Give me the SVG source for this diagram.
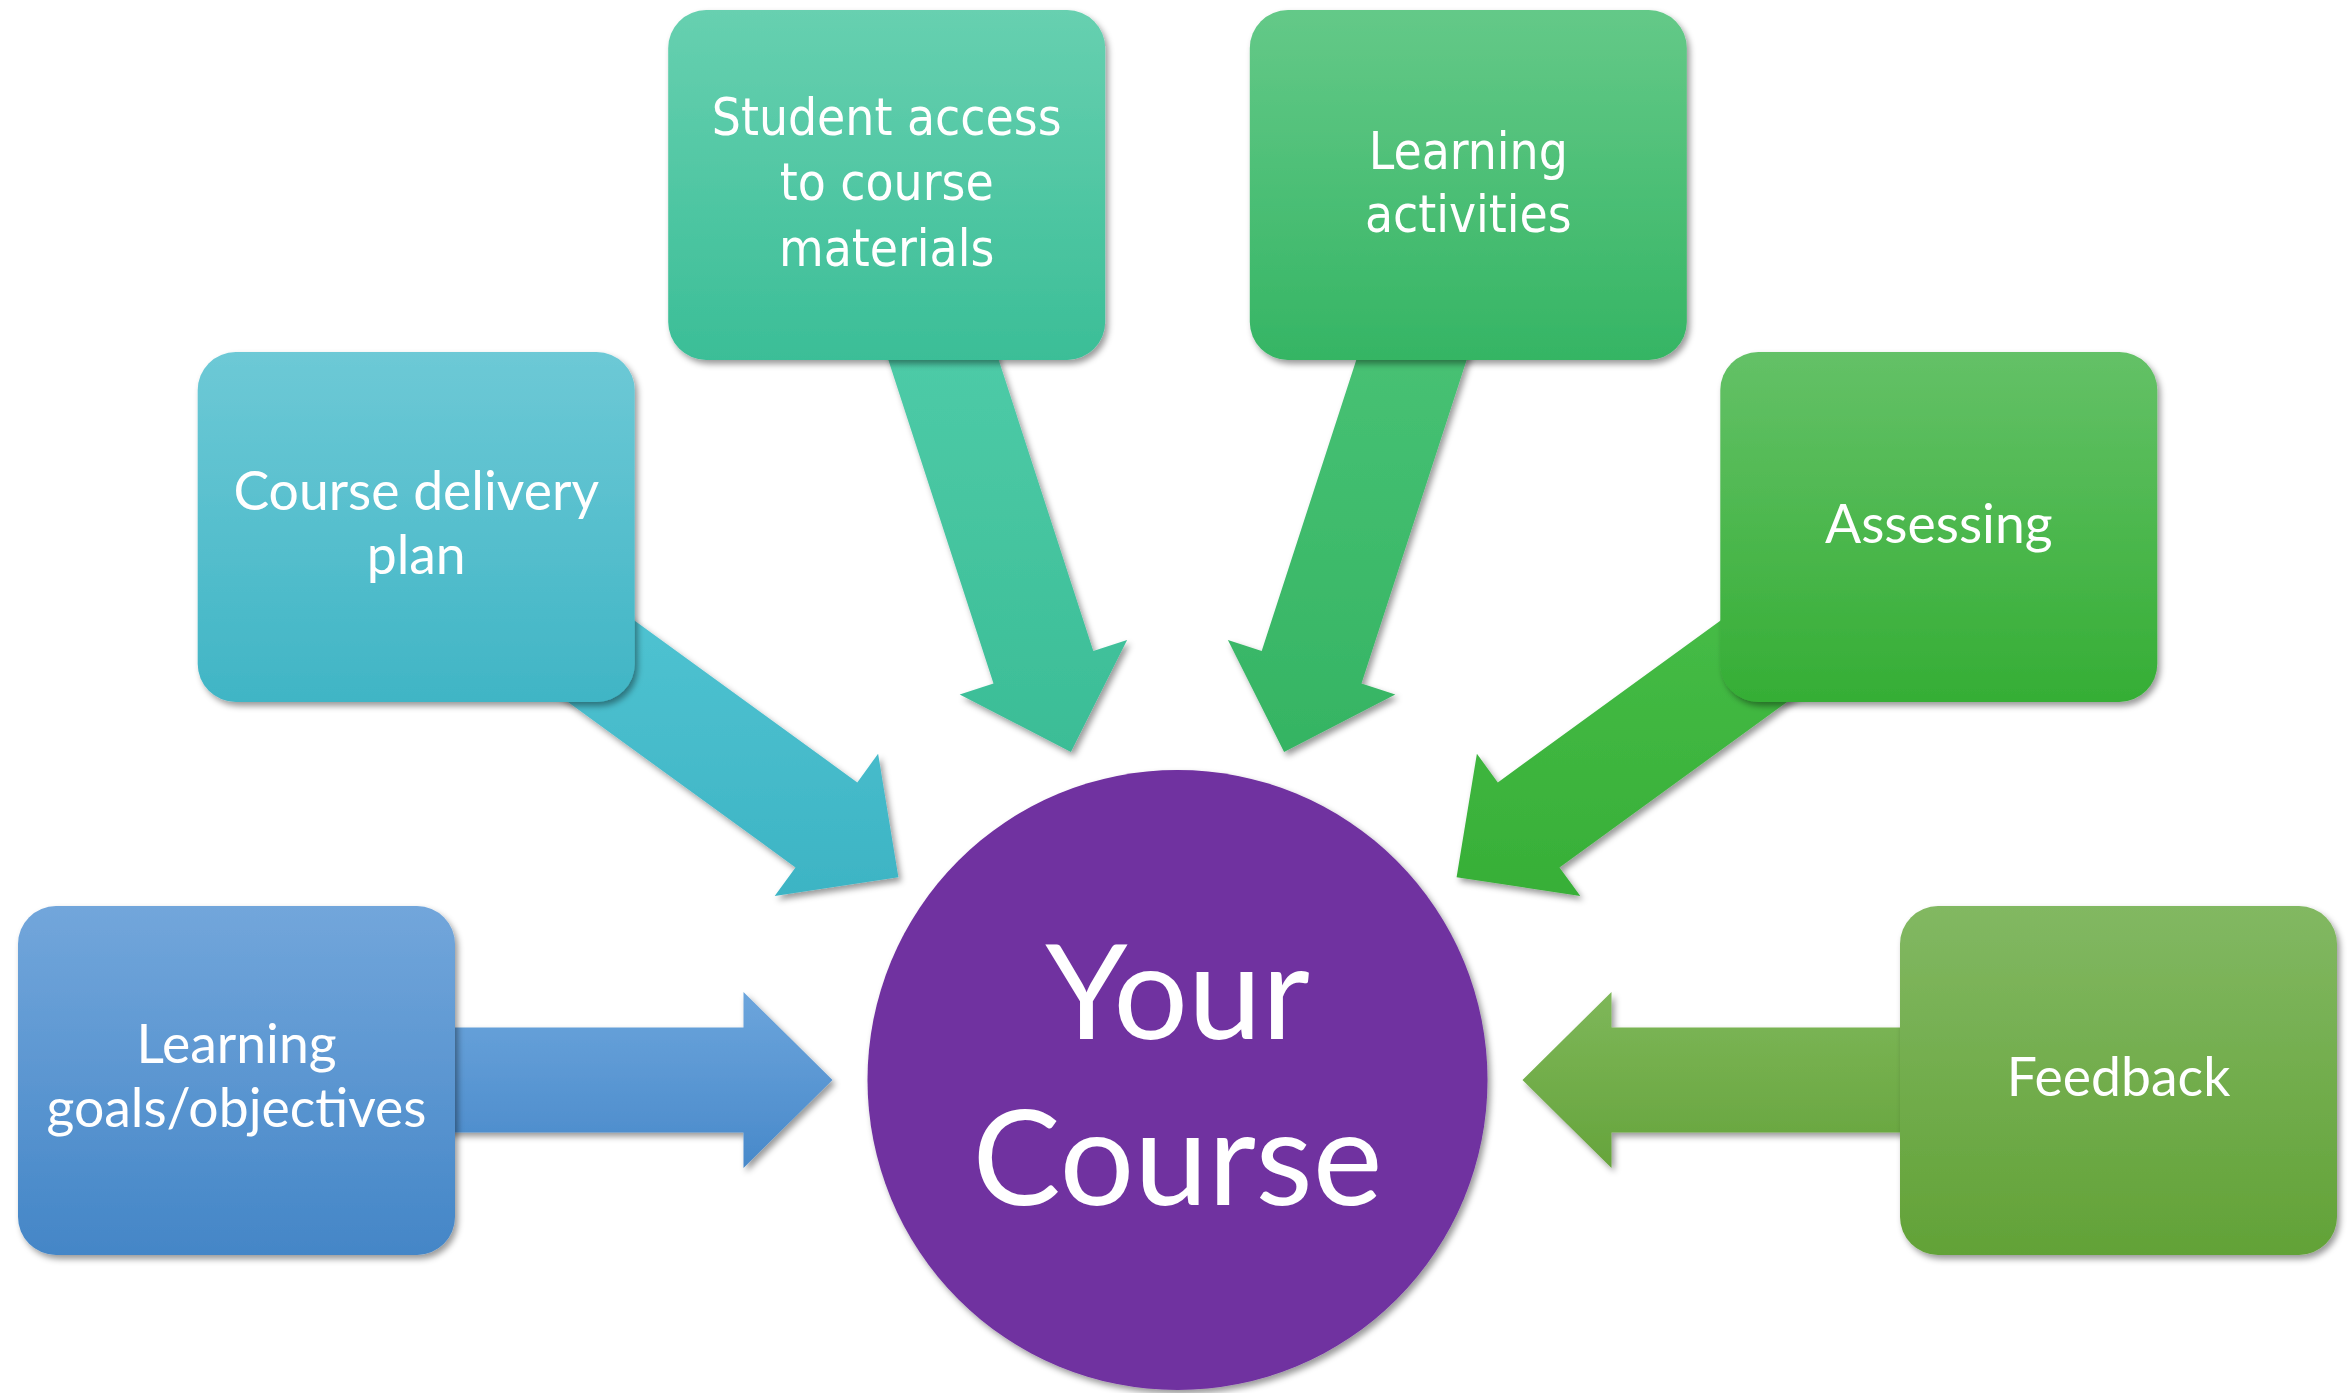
<svg xmlns="http://www.w3.org/2000/svg" width="2352" height="1393" viewBox="0 0 2352 1393">
<defs>
<filter id="sh" x="-10%" y="-10%" width="125%" height="125%">
<feDropShadow dx="3" dy="4" stdDeviation="3" flood-color="#000" flood-opacity="0.4"/>
</filter>
<linearGradient id="b1" x1="0" y1="0" x2="0" y2="1"><stop offset="0" stop-color="#72A6DB"/><stop offset="1" stop-color="#4486C7"/></linearGradient>
<linearGradient id="b2" x1="0" y1="0" x2="0" y2="1"><stop offset="0" stop-color="#6DC9D6"/><stop offset="1" stop-color="#40B5C5"/></linearGradient>
<linearGradient id="b3" x1="0" y1="0" x2="0" y2="1"><stop offset="0" stop-color="#67D0B0"/><stop offset="1" stop-color="#3BBE97"/></linearGradient>
<linearGradient id="b4" x1="0" y1="0" x2="0" y2="1"><stop offset="0" stop-color="#64C988"/><stop offset="1" stop-color="#35B564"/></linearGradient>
<linearGradient id="b5" x1="0" y1="0" x2="0" y2="1"><stop offset="0" stop-color="#64C167"/><stop offset="1" stop-color="#35AE35"/></linearGradient>
<linearGradient id="b6" x1="0" y1="0" x2="0" y2="1"><stop offset="0" stop-color="#82B862"/><stop offset="1" stop-color="#62A237"/></linearGradient>
<linearGradient id="a1" x1="0" y1="0" x2="0" y2="1"><stop offset="0" stop-color="#6CA5DC"/><stop offset="1" stop-color="#4889CA"/></linearGradient>
<linearGradient id="a2" x1="0" y1="0" x2="0" y2="1"><stop offset="0" stop-color="#57C9D7"/><stop offset="1" stop-color="#3DB4C4"/></linearGradient>
<linearGradient id="a3" x1="0" y1="0" x2="0" y2="1"><stop offset="0" stop-color="#56D1AF"/><stop offset="1" stop-color="#3BBD96"/></linearGradient>
<linearGradient id="a4" x1="0" y1="0" x2="0" y2="1"><stop offset="0" stop-color="#4FC77B"/><stop offset="1" stop-color="#35B463"/></linearGradient>
<linearGradient id="a5" x1="0" y1="0" x2="0" y2="1"><stop offset="0" stop-color="#4CC14D"/><stop offset="1" stop-color="#37AF37"/></linearGradient>
<linearGradient id="a6" x1="0" y1="0" x2="0" y2="1"><stop offset="0" stop-color="#7EB759"/><stop offset="1" stop-color="#66A43C"/></linearGradient>
</defs>
<style>
.box{filter:url(#sh);}
.arr{filter:url(#sh);}
.t{fill:#FFFFFF;font-family:Lato,"Open Sans",sans-serif;font-size:53.5px;text-anchor:middle;}
.tv{fill:#FFFFFF;font-family:"DejaVu Sans Condensed","DejaVu Sans",sans-serif;font-stretch:condensed;font-size:51px;text-anchor:middle;}
.big{fill:#FFFFFF;font-family:Lato,"Open Sans",sans-serif;font-size:132px;text-anchor:middle;}
</style>
<rect width="2352" height="1393" fill="#FFFFFF"/>
<g id="connectors">
<polygon class="arr" fill="url(#a1)" points="832.5,1080 743.5,1168 743.5,1132.5 236.5,1132.5 236.5,1027.5 743.5,1027.5 743.5,992"/>
<polygon class="arr" fill="url(#a2)" points="898.4,877.2 774.7,896.1 795.5,867.4 385.4,569.4 447.1,484.4 857.3,782.4 878.1,753.7"/>
<polygon class="arr" fill="url(#a3)" points="1070.9,751.9 959.7,694.4 993.5,683.5 836.8,201.3 936.6,168.8 1093.3,651.0 1127.1,640.1"/>
<polygon class="arr" fill="url(#a4)" points="1284.1,751.9 1395.3,694.4 1361.5,683.5 1518.2,201.3 1418.4,168.8 1261.7,651.0 1227.9,640.1"/>
<polygon class="arr" fill="url(#a5)" points="1456.6,877.2 1580.3,896.1 1559.5,867.4 1969.6,569.4 1907.9,484.4 1497.8,782.4 1476.9,753.7"/>
<polygon class="arr" fill="url(#a6)" points="1522.5,1080 1611.5,992 1611.5,1027.5 2118.5,1027.5 2118.5,1132.5 1611.5,1132.5 1611.5,1168"/>
</g>
<g id="node-goals">
<rect class="box" x="18" y="906" width="437" height="349" rx="38" fill="url(#b1)"/>
<text class="t" x="236.5" y="1063">Learning</text>
<text class="t" x="236.5" y="1127">goals/objectives</text>
</g>
<g id="node-delivery">
<rect class="box" x="197.7" y="352" width="437" height="350" rx="38" fill="url(#b2)"/>
<text class="t" x="416.2" y="510">Course delivery</text>
<text class="t" x="416.2" y="574">plan</text>
</g>
<g id="node-access">
<rect class="box" x="668.2" y="10" width="437" height="350" rx="38" fill="url(#b3)"/>
<text class="tv" x="886.7" y="135">Student access</text>
<text class="tv" x="886.7" y="200">to course</text>
<text class="tv" x="886.7" y="266">materials</text>
</g>
<g id="node-activities">
<rect class="box" x="1249.8" y="10" width="437" height="350" rx="38" fill="url(#b4)"/>
<text class="tv" x="1468.3" y="169">Learning</text>
<text class="tv" x="1468.3" y="232">activities</text>
</g>
<g id="node-assessing">
<rect class="box" x="1720.3" y="352" width="437" height="350" rx="38" fill="url(#b5)"/>
<text class="t" x="1938.8" y="543">Assessing</text>
</g>
<g id="node-feedback">
<rect class="box" x="1900" y="906" width="437" height="349" rx="38" fill="url(#b6)"/>
<text class="t" x="2118.5" y="1096">Feedback</text>
</g>
<g id="node-course">
<circle class="box" cx="1177.5" cy="1080" r="310" fill="#7030A0"/>
<text class="big" x="1177.5" y="1039">Your</text>
<text class="big" x="1177.5" y="1205">Course</text>
</g>
</svg>
